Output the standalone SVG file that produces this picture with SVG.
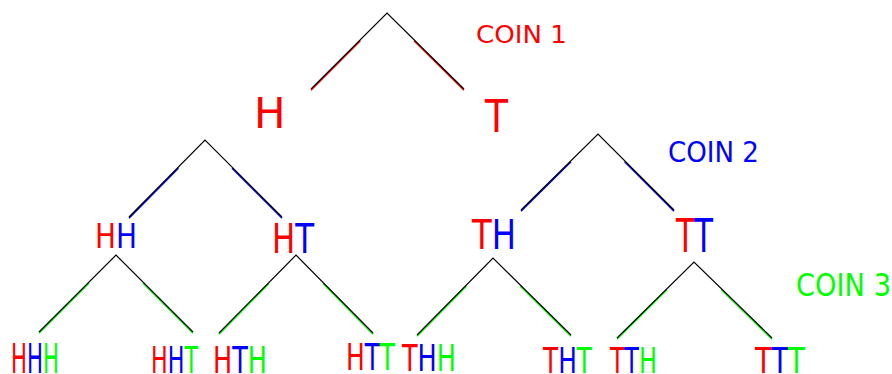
<svg xmlns="http://www.w3.org/2000/svg" width="892" height="374" viewBox="0 0 892 374">
<style>
text{font-family:"DejaVu Sans","Liberation Sans",sans-serif;}
.k{stroke:#000;stroke-width:1.2;fill:none;}
.cr{stroke:#ff0000;stroke-width:1.5;fill:none;}
.cb{stroke:#0000ff;stroke-width:1.5;fill:none;}
.cg{stroke:#00ff00;stroke-width:1.5;fill:none;}
.r{fill:#ff0000;}.b{fill:#0000ff;}.g{fill:#00ff00;}
</style>
<rect width="892" height="374" fill="#fff"/>
<g id="connectors">
<line class="cr" x1="360.4" y1="40.8" x2="311" y2="90.2"/>
<line class="cr" x1="414" y1="40.8" x2="464" y2="90.2"/>
<polyline class="k" points="311,89 387,13 464,89"/>
<line class="cb" x1="178.4" y1="168.2" x2="129" y2="218.2"/>
<line class="cb" x1="232" y1="168.2" x2="282" y2="218.2"/>
<polyline class="k" points="129,217 205,140 282,217"/>
<line class="cb" x1="571" y1="161.8" x2="521" y2="211.2"/>
<line class="cb" x1="624.6" y1="161.8" x2="674" y2="211.2"/>
<polyline class="k" points="521,210 598,134 674,210"/>
<line class="cg" x1="89" y1="283.2" x2="39" y2="333.2"/>
<line class="cg" x1="143" y1="283.2" x2="193" y2="333.2"/>
<polyline class="k" points="39,332 116,255 193,332"/>
<line class="cg" x1="269" y1="283.5" x2="219" y2="334.2"/>
<line class="cg" x1="323" y1="283.5" x2="373" y2="334.2"/>
<polyline class="k" points="219,333 296,255 373,333"/>
<line class="cg" x1="466.4" y1="286.2" x2="417" y2="336.2"/>
<line class="cg" x1="520.3" y1="286.2" x2="571" y2="336.2"/>
<polyline class="k" points="417,335 493,258 571,335"/>
<line class="cg" x1="667" y1="289.8" x2="617" y2="339.2"/>
<line class="cg" x1="721.3" y1="289.8" x2="772" y2="339.2"/>
<polyline class="k" points="617,338 694,262 772,338"/>
</g>
<g id="coin1-label"><text x="476" y="43" font-size="25" textLength="91" lengthAdjust="spacingAndGlyphs" class="r">COIN 1</text></g>
<g id="coin2-label"><text x="668" y="162" font-size="28" textLength="91" lengthAdjust="spacingAndGlyphs" class="b">COIN 2</text></g>
<g id="coin3-label"><text x="796" y="296" font-size="32" textLength="95" lengthAdjust="spacingAndGlyphs" class="g">COIN 3</text></g>
<g id="H"><text x="254" y="128" font-size="42" class="r">H</text></g>
<g id="T"><text x="485" y="132" font-size="44" textLength="23" lengthAdjust="spacingAndGlyphs" class="r">T</text></g>
<g id="HH"><text x="95" y="248" font-size="34" textLength="42" lengthAdjust="spacingAndGlyphs"><tspan class="r">H</tspan><tspan class="b">H</tspan></text></g>
<g id="HT"><text x="272" y="253" font-size="40" textLength="42" lengthAdjust="spacingAndGlyphs"><tspan class="r">H</tspan><tspan class="b">T</tspan></text></g>
<g id="TH"><text x="472" y="249" font-size="40" textLength="44" lengthAdjust="spacingAndGlyphs"><tspan class="r">T</tspan><tspan class="b">H</tspan></text></g>
<g id="TT"><text x="676" y="252" font-size="47" textLength="37" lengthAdjust="spacingAndGlyphs"><tspan class="r">T</tspan><tspan class="b">T</tspan></text></g>
<g id="HHH"><text x="11" y="373" font-size="41" textLength="48" lengthAdjust="spacingAndGlyphs"><tspan class="r">H</tspan><tspan class="b">H</tspan><tspan class="g">H</tspan></text></g>
<g id="HHT"><text x="151" y="373" font-size="38" textLength="47" lengthAdjust="spacingAndGlyphs"><tspan class="r">H</tspan><tspan class="b">H</tspan><tspan class="g">T</tspan></text></g>
<g id="HTH"><text x="213" y="373" font-size="37" textLength="54" lengthAdjust="spacingAndGlyphs"><tspan class="r">H</tspan><tspan class="b">T</tspan><tspan class="g">H</tspan></text></g>
<g id="HTT"><text x="346" y="370" font-size="37" textLength="49" lengthAdjust="spacingAndGlyphs"><tspan class="r">H</tspan><tspan class="b">T</tspan><tspan class="g">T</tspan></text></g>
<g id="THH"><text x="402" y="371" font-size="37" textLength="54" lengthAdjust="spacingAndGlyphs"><tspan class="r">T</tspan><tspan class="b">H</tspan><tspan class="g">H</tspan></text></g>
<g id="THT"><text x="543" y="373" font-size="36" textLength="49" lengthAdjust="spacingAndGlyphs"><tspan class="r">T</tspan><tspan class="b">H</tspan><tspan class="g">T</tspan></text></g>
<g id="TTH"><text x="610" y="373" font-size="36" textLength="47" lengthAdjust="spacingAndGlyphs"><tspan class="r">T</tspan><tspan class="b">T</tspan><tspan class="g">H</tspan></text></g>
<g id="TTT"><text x="755" y="373" font-size="36" textLength="50" lengthAdjust="spacingAndGlyphs"><tspan class="r">T</tspan><tspan class="b">T</tspan><tspan class="g">T</tspan></text></g>
</svg>
